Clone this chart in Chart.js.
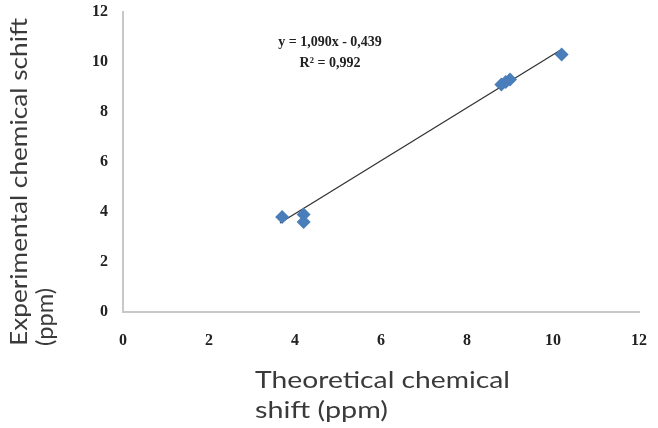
<!DOCTYPE html>
<html>
<head>
<meta charset="utf-8">
<script src="https://cdn.jsdelivr.net/npm/chart.js@4/dist/chart.umd.min.js"></script>
<style>
    html, body { margin: 0; padding: 0; background: #fff; }
    #wrap { width: 658px; height: 428px; position: relative; }
</style>
</head>
<body>
<div id="wrap"><canvas id="chart" width="658" height="428"></canvas></div>
<script>
// values
const theoX = [3.7, 4.2, 4.2, 8.8, 8.9, 9.0, 10.2];
const exptY = [3.8, 3.9, 3.6, 9.1, 9.2, 9.3, 10.3];
const trendX = [3.65, 10.15];
const trendY = [3.56, 10.45];
const axisTicks = [0, 2, 4, 6, 8, 10, 12];
const eqLines = ['y = 1,090x - 0,439', 'R² = 0,992'];
const yTitle = ['Experimental chemical schift', '(ppm)'];
const xTitle = ['Theoretical chemical', 'shift (ppm)'];

const tickFont = { family: '"Liberation Serif", "DejaVu Serif", serif', size: 16, weight: 'bold' };
const titleFont = '24px Lato, "Open Sans", sans-serif';

// draw a line of text stretched to a given width (the source text is wide)
function fitText(ctx, str, x, y, w) {
    const k = w / ctx.measureText(str).width;
    ctx.save();
    ctx.translate(x, y);
    ctx.scale(k, 1);
    ctx.fillText(str, 0, 0);
    ctx.restore();
}

const textPlugin = {
    id: 'texts',
    afterDraw(chart) {
        const ctx = chart.ctx;
        ctx.save();
        ctx.fillStyle = '#222';
        ctx.font = 'bold 14px "Liberation Serif", serif';
        ctx.textAlign = 'center';
        ctx.textBaseline = 'middle';
        ctx.fillText(eqLines[0], 330, 42);
        ctx.fillText(eqLines[1], 330, 63);

        ctx.fillStyle = '#3a3a3a';
        ctx.font = titleFont;
        ctx.textAlign = 'left';
        fitText(ctx, xTitle[0], 255, 380, 255);
        fitText(ctx, xTitle[1], 255, 410, 133);

        ctx.rotate(-Math.PI / 2);
        fitText(ctx, yTitle[0], -346, 19, 328);
        fitText(ctx, yTitle[1], -346, 45, 58);
        ctx.restore();
    }
};

new Chart(document.getElementById('chart'), {
    type: 'scatter',
    data: {
        datasets: [
            {
                label: 'trend',
                data: trendX.map((x, i) => ({ x, y: trendY[i] })),
                showLine: true,
                borderColor: '#333',
                borderWidth: 1.3,
                pointRadius: 0,
                order: 2
            },
            {
                label: 'shift',
                data: theoX.map((x, i) => ({ x, y: exptY[i] })),
                pointStyle: 'rectRot',
                pointRadius: 7,
                backgroundColor: '#4a7ebb',
                borderColor: '#4a7ebb',
                borderWidth: 0,
                order: 1
            }
        ]
    },
    options: {
        responsive: false,
        animation: false,
        layout: { padding: { left: 0, top: 12, right: 19, bottom: 0 } },
        plugins: { legend: { display: false }, tooltip: { enabled: false } },
        scales: {
            x: {
                type: 'linear',
                min: 0, max: 12,
                afterBuildTicks: s => { s.ticks = axisTicks.map(v => ({ value: v })); },
                afterFit: s => { s.height = 116; s.paddingLeft = 0; s.paddingRight = 0; },
                grid: { display: false, drawTicks: false },
                border: { display: true, color: '#c8c8c8', width: 2 },
                ticks: { font: tickFont, color: '#222', padding: 19 }
            },
            y: {
                type: 'linear',
                min: 0, max: 12,
                afterBuildTicks: s => { s.ticks = axisTicks.map(v => ({ value: v })); },
                afterFit: s => { s.width = 123; s.paddingTop = 0; s.paddingBottom = 0; },
                grid: { display: false, drawTicks: false },
                border: { display: true, color: '#c8c8c8', width: 2 },
                ticks: { font: tickFont, color: '#222', padding: 15 }
            }
        }
    },
    plugins: [textPlugin]
});
</script>
</body>
</html>
